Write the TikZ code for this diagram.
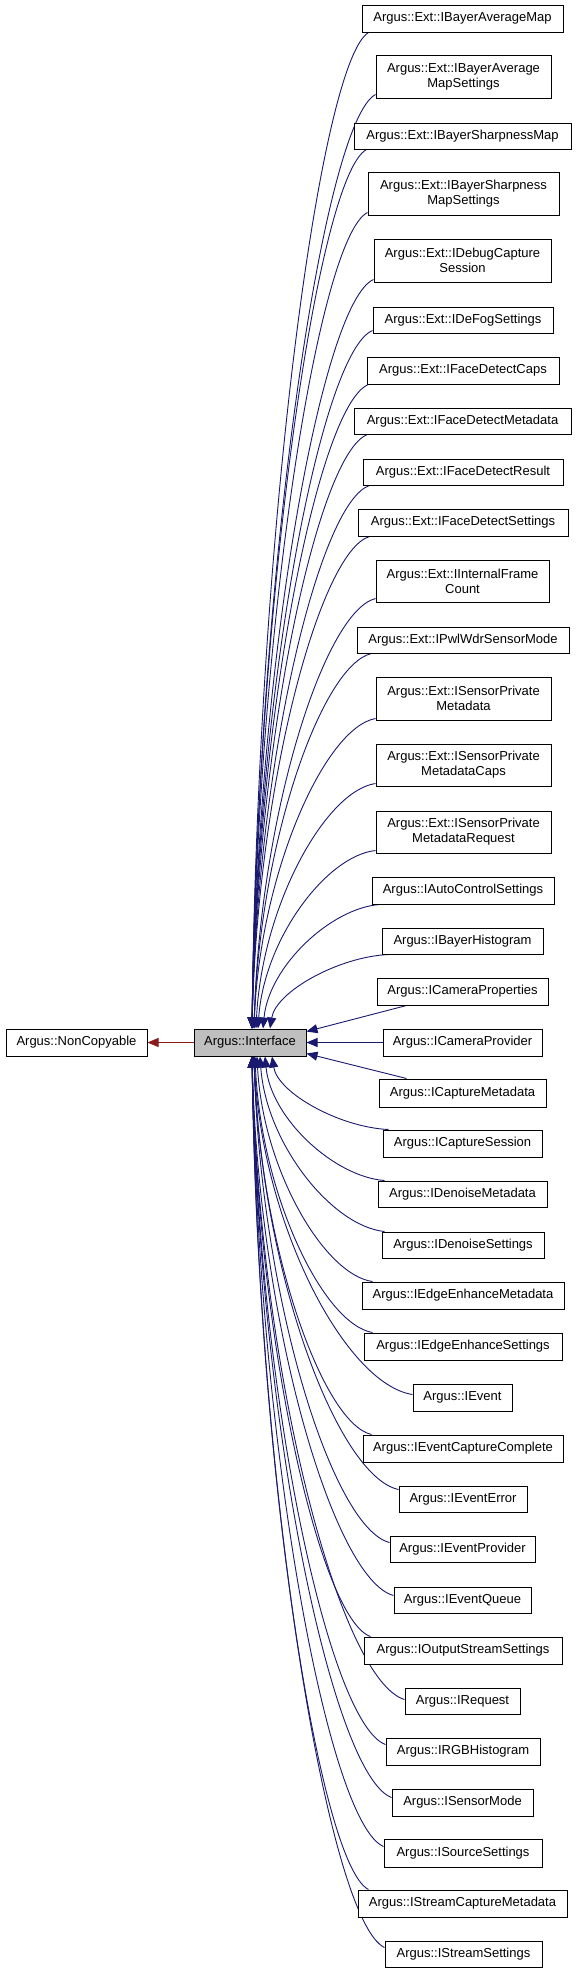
\documentclass[tikz,border=0pt]{standalone}
\usepackage{fontspec}
\setmainfont{Liberation Sans}
\usetikzlibrary{arrows.meta,calc}
\definecolor{navyc}{HTML}{191970}
\definecolor{redc}{HTML}{8B1A1A}
\definecolor{grayc}{HTML}{BFBFBF}
\pgfdeclarelayer{backlayer}
\pgfdeclarelayer{edgelayer}
\pgfsetlayers{backlayer,edgelayer,main}
\newcommand\clsnode[6]{\node[cls, minimum width={(#3-#2)*1pt}, minimum height={(#5-#4)*1pt}] (#1) at ({(#2+#3)/2},{(#4+#5)/2}) {#6};}
\newcommand\iedge[2]{\draw[edge] let \p1=(#1), \p2=(#2) in (\p1) .. controls ({\x1+0.42*(\x2-\x1)},{\y1+0.03*(\y2-\y1)}) and ({\x2+0.05*(\x1-\x2)},{\y1+0.5*(\y2-\y1)}) .. (\p2);}
\begin{document}
\begin{tikzpicture}[x=1pt,y=-1pt,
  cls/.style={draw=black, line width=1pt, fill=white, inner sep=0pt, align=center, font=\fontsize{13}{15}\selectfont},
  edge/.style={draw=navyc, line width=0.9pt, -{Triangle[length=11pt,width=9pt]}},
  privedge/.style={draw=redc, line width=0.9pt, -{Triangle[length=11pt,width=9pt]}}]
\begin{pgfonlayer}{backlayer}
\fill[white] (0,0) rectangle (576,1973);
\end{pgfonlayer}
\useasboundingbox (0,0) rectangle (576,1973);
\clsnode{nc}{6}{147}{1029}{1056}{Argus::NonCopyable}
\node[cls, fill=grayc, minimum width=112pt, minimum height=27pt] (iface) at (250,1042.5) {Argus::Interface};
\clsnode{c1}{362}{563}{5}{32}{Argus::Ext::IBayerAverageMap}
\clsnode{c2}{376}{551}{55}{98}{Argus::Ext::IBayerAverage\\MapSettings}
\clsnode{c3}{354}{571}{123}{149}{Argus::Ext::IBayerSharpnessMap}
\clsnode{c4}{368}{559}{172}{215}{Argus::Ext::IBayerSharpness\\MapSettings}
\clsnode{c5}{374}{551}{239}{282}{Argus::Ext::IDebugCapture\\Session}
\clsnode{c6}{373}{553}{307}{333}{Argus::Ext::IDeFogSettings}
\clsnode{c7}{367}{559}{357}{384}{Argus::Ext::IFaceDetectCaps}
\clsnode{c8}{354}{571}{408}{434}{Argus::Ext::IFaceDetectMetadata}
\clsnode{c9}{363}{563}{459}{485}{Argus::Ext::IFaceDetectResult}
\clsnode{c10}{358}{568}{509}{536}{Argus::Ext::IFaceDetectSettings}
\clsnode{c11}{376}{549}{560}{602}{Argus::Ext::IInternalFrame\\Count}
\clsnode{c12}{357}{569}{627}{653}{Argus::Ext::IPwlWdrSensorMode}
\clsnode{c13}{376}{551}{677}{720}{Argus::Ext::ISensorPrivate\\Metadata}
\clsnode{c14}{376}{551}{744}{786}{Argus::Ext::ISensorPrivate\\MetadataCaps}
\clsnode{c15}{376}{551}{811}{853}{Argus::Ext::ISensorPrivate\\MetadataRequest}
\clsnode{c16}{372}{554}{877}{904}{Argus::IAutoControlSettings}
\clsnode{c17}{382}{543}{928}{954}{Argus::IBayerHistogram}
\clsnode{c18}{377}{548}{978}{1005}{Argus::ICameraProperties}
\clsnode{c19}{383}{542}{1029}{1056}{Argus::ICameraProvider}
\clsnode{c20}{379}{546}{1079}{1107}{Argus::ICaptureMetadata}
\clsnode{c21}{383}{542}{1130}{1157}{Argus::ICaptureSession}
\clsnode{c22}{378}{547}{1181}{1207}{Argus::IDenoiseMetadata}
\clsnode{c23}{382}{544}{1232}{1258}{Argus::IDenoiseSettings}
\clsnode{c24}{362}{564}{1282}{1309}{Argus::IEdgeEnhanceMetadata}
\clsnode{c25}{364}{562}{1333}{1360}{Argus::IEdgeEnhanceSettings}
\clsnode{c26}{413}{512}{1384}{1411}{Argus::IEvent}
\clsnode{c27}{363}{563}{1435}{1462}{Argus::IEventCaptureComplete}
\clsnode{c28}{399}{527}{1486}{1512}{Argus::IEventError}
\clsnode{c29}{390}{535}{1536}{1562}{Argus::IEventProvider}
\clsnode{c30}{394}{531}{1587}{1613}{Argus::IEventQueue}
\clsnode{c31}{364}{562}{1637}{1664}{Argus::IOutputStreamSettings}
\clsnode{c32}{405}{520}{1688}{1714}{Argus::IRequest}
\clsnode{c33}{386}{540}{1738}{1765}{Argus::IRGBHistogram}
\clsnode{c34}{392}{533}{1789}{1816}{Argus::ISensorMode}
\clsnode{c35}{384}{542}{1839}{1867}{Argus::ISourceSettings}
\clsnode{c36}{358}{567}{1890}{1917}{Argus::IStreamCaptureMetadata}
\clsnode{c37}{385}{542}{1941}{1967}{Argus::IStreamSettings}
\begin{pgfonlayer}{edgelayer}
% private inheritance
\draw[privedge] (iface.west) -- (nc.east);
% children above
\iedge{[xshift=7pt]c1.south west}{[xshift=2pt]iface.north}
\iedge{[yshift=4pt]c2.south west}{[xshift=2pt]iface.north}
\iedge{[xshift=13pt]c3.south west}{[xshift=2pt]iface.north}
\iedge{[yshift=3pt]c4.south west}{[xshift=2pt]iface.north}
\iedge{[yshift=3pt]c5.south west}{[xshift=2pt]iface.north}
\iedge{[yshift=3pt]c6.south west}{[xshift=2pt]iface.north}
\iedge{[xshift=2pt]c7.south west}{[xshift=2pt]iface.north}
\iedge{[xshift=14pt]c8.south west}{[xshift=2pt]iface.north}
\iedge{[xshift=7pt]c9.south west}{[xshift=2pt]iface.north}
\iedge{[xshift=12pt]c10.south west}{[xshift=2pt]iface.north}
\iedge{[yshift=4pt]c11.south west}{[xshift=4pt]iface.north}
\iedge{[xshift=15pt]c12.south west}{[xshift=4pt]iface.north}
\iedge{[yshift=2pt]c13.south west}{[xshift=4pt]iface.north}
\iedge{[yshift=3pt]c14.south west}{[xshift=6pt]iface.north}
\iedge{[yshift=3pt]c15.south west}{[xshift=8pt]iface.north}
\iedge{[xshift=8pt]c16.south west}{[xshift=13pt]iface.north}
\iedge{[xshift=7pt]c17.south west}{[xshift=20pt]iface.north}
% straight ones
\draw[edge] ([xshift=30pt]c18.south west) -- ([yshift=-3pt]iface.north east);
\draw[edge] (c19.west) -- (iface.east);
\draw[edge] ([xshift=28pt]c20.north west) -- ([yshift=3pt]iface.south east);
% children below
\iedge{[xshift=6pt]c21.north west}{[xshift=22pt]iface.south}
\iedge{[xshift=7pt]c22.north west}{[xshift=15pt]iface.south}
\iedge{[xshift=3pt]c23.north west}{[xshift=10pt]iface.south}
\iedge{[xshift=11pt]c24.north west}{[xshift=7pt]iface.south}
\iedge{[xshift=9pt]c25.north west}{[xshift=5pt]iface.south}
\iedge{[yshift=-11pt]c26.north west}{[xshift=4pt]iface.south}
\iedge{[xshift=9pt]c27.north west}{[xshift=4pt]iface.south}
\iedge{[yshift=-4pt]c28.north west}{[xshift=4pt]iface.south}
\iedge{[yshift=-7pt]c29.north west}{[xshift=4pt]iface.south}
\iedge{[yshift=-9pt]c30.north west}{[xshift=2pt]iface.south}
\iedge{[xshift=7pt]c31.north west}{[xshift=2pt]iface.south}
\iedge{[yshift=-12pt]c32.north west}{[xshift=2pt]iface.south}
\iedge{[yshift=-7pt]c33.north west}{[xshift=2pt]iface.south}
\iedge{[yshift=-9pt]c34.north west}{[xshift=2pt]iface.south}
\iedge{[yshift=-8pt]c35.north west}{[xshift=2pt]iface.south}
\iedge{[xshift=11pt]c36.north west}{[xshift=2pt]iface.south}
\iedge{[yshift=-7pt]c37.north west}{[xshift=2pt]iface.south}
\end{pgfonlayer}
\end{tikzpicture}
\end{document}
